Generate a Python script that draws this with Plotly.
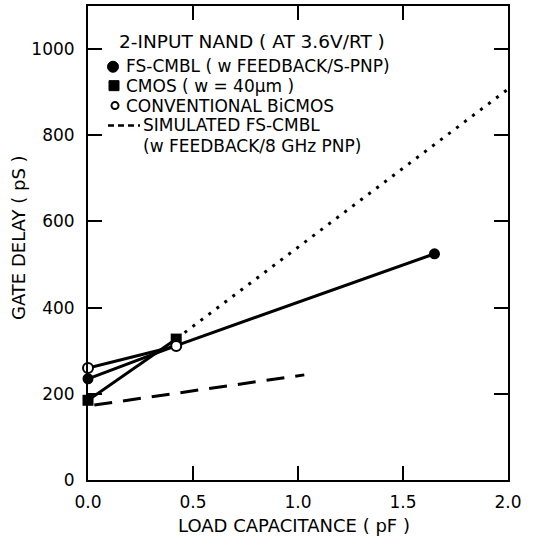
import plotly.graph_objects as go

# ---- data ----
fs_x = [0.0, 0.42, 1.65]          # FS-CMBL (filled circles)
fs_y = [235, 312, 525]
cmos_x = [0.0, 0.42]              # CMOS (filled squares)
cmos_y = [185, 327]
conv_x = [0.0, 0.42]              # Conventional BiCMOS (open circles)
conv_y = [260, 311]
cmos_ext_x = [0.46, 2.0]          # dotted extrapolation
cmos_ext_y = [342, 907]
sim_x = [0.03, 1.03]              # simulated FS-CMBL (dashed)
sim_y = [174, 244]

x_ticks = [0.0, 0.5, 1.0, 1.5, 2.0]
x_tick_text = ["0.0", "0.5", "1.0", "1.5", "2.0"]
y_ticks = [0, 200, 400, 600, 800, 1000]
y_tick_text = ["0", "200", "400", "600", "800", "1000"]

FONT = "DejaVu Sans"
W, H = 537, 543
L, R, T, B = 88, 29, 4, 63
PW, PH = W - L - R, H - T - B

def px(x):
    return (x - L) / PW

def py(y):
    return (H - B - y) / PH

fig = go.Figure()

# lines
fig.add_trace(go.Scatter(x=cmos_ext_x, y=cmos_ext_y, mode="lines",
                         line=dict(color="black", width=3, dash="3px,7px"),
                         cliponaxis=False, showlegend=False))
fig.add_trace(go.Scatter(x=sim_x, y=sim_y, mode="lines",
                         line=dict(color="black", width=3, dash="18px,11px"),
                         cliponaxis=False, showlegend=False))
fig.add_trace(go.Scatter(x=fs_x, y=fs_y, mode="lines",
                         line=dict(color="black", width=3),
                         cliponaxis=False, showlegend=False))
fig.add_trace(go.Scatter(x=cmos_x, y=cmos_y, mode="lines",
                         line=dict(color="black", width=3),
                         cliponaxis=False, showlegend=False))
fig.add_trace(go.Scatter(x=conv_x, y=conv_y, mode="lines",
                         line=dict(color="black", width=3),
                         cliponaxis=False, showlegend=False))
# markers
fig.add_trace(go.Scatter(x=fs_x, y=fs_y, mode="markers",
                         marker=dict(symbol="circle", size=11, color="black"),
                         cliponaxis=False, showlegend=False))
fig.add_trace(go.Scatter(x=cmos_x, y=cmos_y, mode="markers",
                         marker=dict(symbol="square", size=11, color="black"),
                         cliponaxis=False, showlegend=False))
fig.add_trace(go.Scatter(x=conv_x, y=conv_y, mode="markers",
                         marker=dict(symbol="circle", size=10, color="white",
                                     line=dict(color="black", width=2)),
                         cliponaxis=False, showlegend=False))

axis_common = dict(showline=True, linecolor="black", linewidth=2, mirror="ticks",
                   ticks="inside", ticklen=14, tickwidth=2, tickcolor="black",
                   showgrid=False, zeroline=False,
                   tickfont=dict(family=FONT, size=17, color="black"))

fig.update_xaxes(range=[0, 2.0], tickvals=x_ticks, ticktext=x_tick_text,
                 ticklabelstandoff=6, **axis_common)
fig.update_yaxes(range=[0, 1100], tickvals=y_ticks, ticktext=y_tick_text,
                 ticklabelstandoff=8, **axis_common)

annotations = [
    dict(text="LOAD CAPACITANCE ( pF )", x=px(294), y=py(526), xanchor="center", size=18),
    dict(text="GATE DELAY ( pS )", x=px(18), y=py(237), xanchor="center", textangle=-90, size=18),
    dict(text="2-INPUT NAND ( AT 3.6V/RT )", x=px(117), y=py(40), xanchor="left", size=18.5),
    dict(text="FS-CMBL ( w FEEDBACK/S-PNP)", x=px(124), y=py(64), xanchor="left", size=17),
    dict(text="CMOS ( w = 40\u03bcm )", x=px(124), y=py(84), xanchor="left", size=17),
    dict(text="CONVENTIONAL BiCMOS", x=px(124), y=py(104), xanchor="left", size=17),
    dict(text="SIMULATED FS-CMBL", x=px(141), y=py(124), xanchor="left", size=17),
    dict(text="(w FEEDBACK/8 GHz PNP)", x=px(141), y=py(145), xanchor="left", size=17),
]
for a in annotations:
    s = a.pop("size")
    a.update(xref="paper", yref="paper", showarrow=False, yanchor="middle",
             font=dict(family=FONT, size=s, color="black"))

shapes = [
    dict(type="circle", xref="paper", yref="paper", xsizemode="pixel", ysizemode="pixel",
         xanchor=px(113), yanchor=py(65), x0=-5.5, x1=5.5, y0=-5.5, y1=5.5,
         fillcolor="black", line=dict(color="black", width=1)),
    dict(type="rect", xref="paper", yref="paper", xsizemode="pixel", ysizemode="pixel",
         xanchor=px(114), yanchor=py(84), x0=-5, x1=5, y0=-5, y1=5,
         fillcolor="black", line=dict(color="black", width=1)),
    dict(type="circle", xref="paper", yref="paper", xsizemode="pixel", ysizemode="pixel",
         xanchor=px(115), yanchor=py(104), x0=-3.5, x1=3.5, y0=-3.5, y1=3.5,
         fillcolor="white", line=dict(color="black", width=2)),
    dict(type="line", xref="paper", yref="paper", x0=px(108), x1=px(140),
         y0=py(124), y1=py(124), line=dict(color="black", width=2.5, dash="6px,4px")),
]

fig.update_layout(width=W, height=H, margin=dict(l=L, r=R, t=T, b=B),
                  paper_bgcolor="white", plot_bgcolor="white",
                  showlegend=False, annotations=annotations, shapes=shapes,
                  font=dict(family=FONT, color="black"))

fig.write_html("out.html", config={"displayModeBar": False},
               post_script="document.body.style.margin='0';")
